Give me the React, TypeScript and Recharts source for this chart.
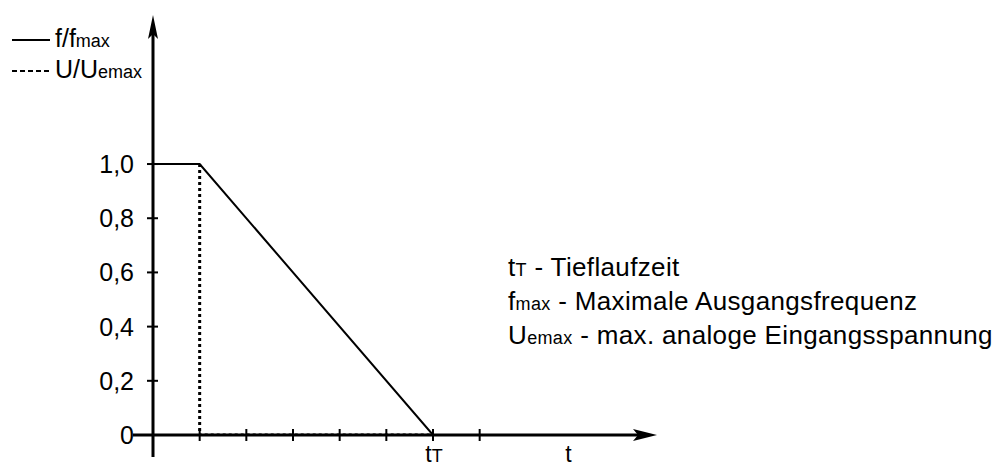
import React from 'react';
import { LineChart, Line, XAxis, YAxis, ReferenceLine, ReferenceDot, Legend } from 'recharts';

// time axis in tick units, tick 6 = tT
const xTicks = [1, 2, 3, 4, 5, 6, 7];
const yTicks = [0, 0.2, 0.4, 0.6, 0.8, 1.0];
const yTickLabels = ['0', '0,2', '0,4', '0,6', '0,8', '1,0'];

const freqX = [0, 1, 6];
const freqY = [1, 1, 0];
const voltX = [1, 1, 6];
const voltY = [1, 0, 0];

const freqData = freqX.map((x, i) => ({ x, y: freqY[i] }));
const voltData = voltX.map((x, i) => ({ x, y: voltY[i] }));

const FONT = '"Liberation Sans", Arial, sans-serif';
const X_MAX = 10.8;
const Y_MAX = 1.55;

const YTick = (label: string) => (props: any) => {
  const { cx, cy } = props;
  return (
    <g>
      <line x1={cx - 6} y1={cy} x2={cx + 5} y2={cy} stroke="#000" strokeWidth={2} />
      <text x={cx - 19} y={cy + 9} textAnchor="end" fontFamily={FONT} fontSize={25} fill="#000">
        {label}
      </text>
    </g>
  );
};

const XTick = (props: any) => {
  const { cx, cy } = props;
  return <line x1={cx} y1={cy - 6} x2={cx} y2={cy + 6} stroke="#000" strokeWidth={2} />;
};

const TLabel = (props: any) => (
  <text x={props.cx + 1} y={props.cy + 27} textAnchor="middle" fontFamily={FONT} fontSize={23} fill="#000">
    t<tspan fontSize={18}>T</tspan>
  </text>
);

const tLabel = (props: any) => (
  <text x={props.cx} y={props.cy + 27} textAnchor="middle" fontFamily={FONT} fontSize={23} fill="#000">
    t
  </text>
);

const ArrowRight = (props: any) => {
  const { cx, cy } = props;
  return <polygon points={`${cx},${cy} ${cx - 24},${cy - 6} ${cx - 19},${cy} ${cx - 24},${cy + 6}`} fill="#000" />;
};

const ArrowUp = (props: any) => {
  const { cx, cy } = props;
  return <polygon points={`${cx},${cy} ${cx - 5},${cy + 24} ${cx},${cy + 19} ${cx + 5},${cy + 24}`} fill="#000" />;
};

const sub = { fontSize: 18 };

const LegendContent = () => (
  <div style={{ fontFamily: FONT, fontSize: 25, color: '#000', lineHeight: '31px' }}>
    <div style={{ display: 'flex', alignItems: 'center', height: 31 }}>
      <svg width={47} height={10}>
        <line x1={4} y1={5} x2={42} y2={5} stroke="#000" strokeWidth={2} />
      </svg>
      <span>
        f/f<span style={sub}>max</span>
      </span>
    </div>
    <div style={{ display: 'flex', alignItems: 'center', height: 31 }}>
      <svg width={47} height={10}>
        <line x1={4} y1={5} x2={42} y2={5} stroke="#000" strokeWidth={2} strokeDasharray="5 3" />
      </svg>
      <span>
        U/U<span style={sub}>emax</span>
      </span>
    </div>
  </div>
);

export default function App() {
  return (
    <div style={{ position: 'absolute', left: 0, top: 0, width: 996, height: 468, background: '#fff' }}>
      <LineChart width={996} height={468} margin={{ top: 15, right: 339, bottom: 33, left: 153 }}>
        <XAxis type="number" dataKey="x" domain={[0, X_MAX]} hide allowDataOverflow />
        <YAxis type="number" domain={[0, Y_MAX]} hide allowDataOverflow />
        <Legend
          layout="vertical"
          align="center"
          verticalAlign="middle"
          content={LegendContent}
          wrapperStyle={{ left: 8, top: 24, width: 180 }}
        />

        <ReferenceLine
          segment={[{ x: -0.43, y: 0 }, { x: X_MAX - 0.4, y: 0 }]}
          stroke="#000"
          strokeWidth={3}
          ifOverflow="visible"
        />
        <ReferenceLine
          segment={[{ x: 0, y: -0.081 }, { x: 0, y: Y_MAX - 0.07 }]}
          stroke="#000"
          strokeWidth={3}
          ifOverflow="visible"
        />
        <ReferenceDot x={X_MAX} y={0} shape={ArrowRight} ifOverflow="visible" />
        <ReferenceDot x={0} y={Y_MAX} shape={ArrowUp} ifOverflow="visible" />

        {yTicks.map((v, i) => (
          <ReferenceDot key={`y${v}`} x={0} y={v} shape={YTick(yTickLabels[i])} ifOverflow="visible" />
        ))}
        {xTicks.map((v) => (
          <ReferenceDot key={`x${v}`} x={v} y={0} shape={XTick} ifOverflow="visible" />
        ))}
        <ReferenceDot x={6} y={0} shape={TLabel} ifOverflow="visible" />
        <ReferenceDot x={8.9} y={0} shape={tLabel} ifOverflow="visible" />

        <Line
          data={voltData}
          dataKey="y"
          type="linear"
          stroke="#000"
          strokeWidth={3}
          strokeDasharray="3 3"
          dot={false}
          isAnimationActive={false}
        />
        <Line
          data={freqData}
          dataKey="y"
          type="linear"
          stroke="#000"
          strokeWidth={2}
          dot={false}
          isAnimationActive={false}
        />
      </LineChart>

      <div
        style={{
          position: 'absolute',
          left: 508,
          top: 252,
          fontFamily: FONT,
          fontSize: 26,
          letterSpacing: 0.35,
          lineHeight: '31px',
          color: '#000',
          whiteSpace: 'nowrap',
        }}
      >
        <div>
          t<span style={sub}>T</span> - Tieflaufzeit
        </div>
        <div>
          f<span style={sub}>max</span> - Maximale Ausgangsfrequenz
        </div>
        <div>
          U<span style={sub}>emax</span> - max. analoge Eingangsspannung
        </div>
      </div>
    </div>
  );
}
